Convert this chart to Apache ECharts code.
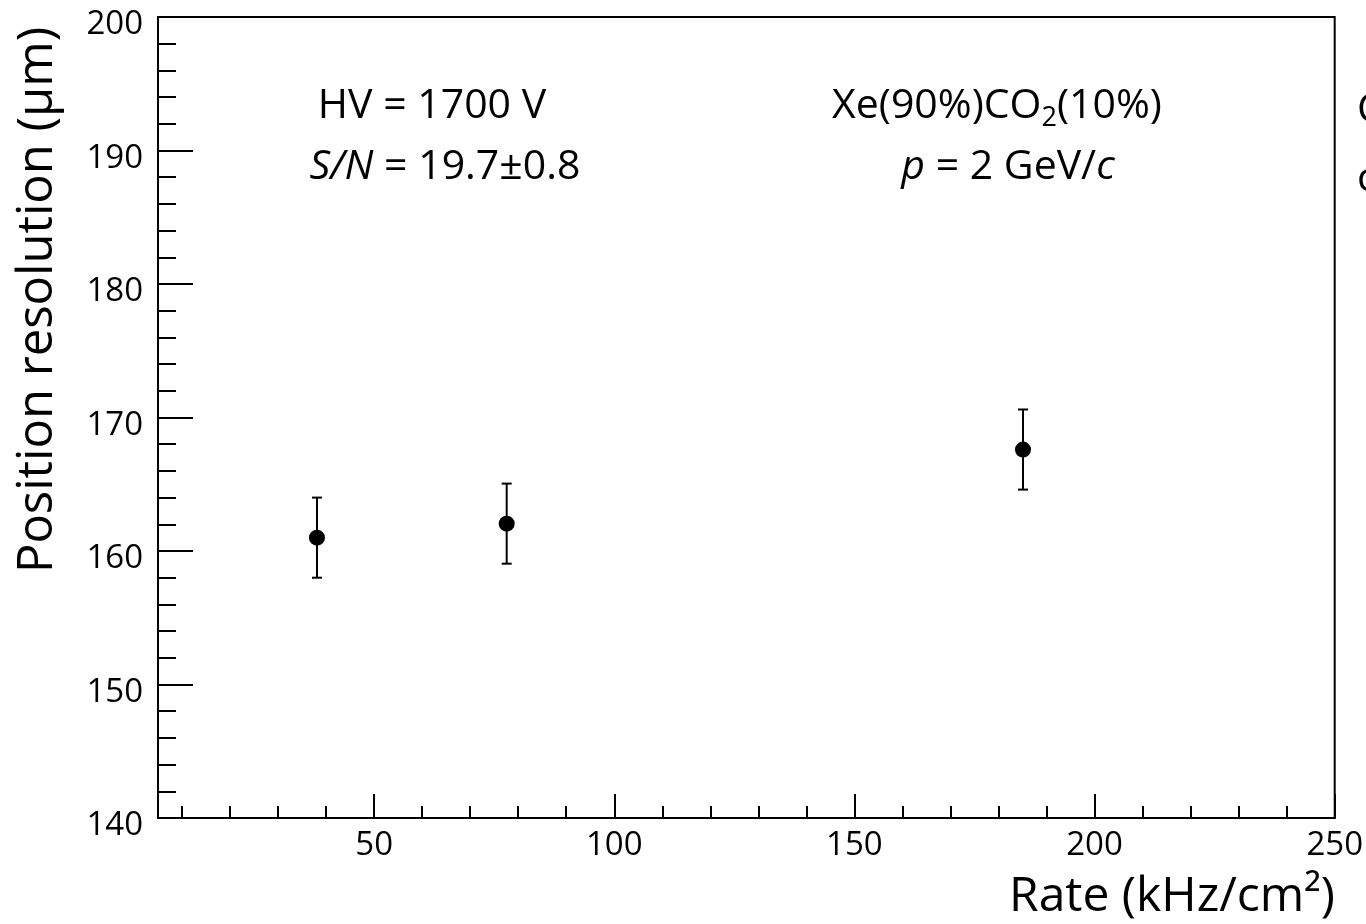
<!DOCTYPE html>
<html>
<head>
<meta charset="utf-8">
<script src="https://cdn.jsdelivr.net/npm/echarts@6/dist/echarts.min.js"></script>
<style>
html,body{margin:0;padding:0;background:#fff;}
#chart{width:1366px;height:924px;}
</style>
</head>
<body>
<div id="chart"></div>
<script>
// ---- data ----
var rateValues = [38.1, 77.6, 185.1];          // kHz/cm^2
var resValues = [161.0, 162.05, 167.6];        // um
var resErrors = [3.0, 3.0, 3.0];               // um

var xMajorTicks = [50, 100, 150, 200, 250];
var xMinorTicks = [10, 20, 30, 40, 60, 70, 80, 90, 110, 120, 130, 140, 160, 170, 180, 190, 210, 220, 230, 240];

var xTitle = 'Rate (kHz/cm\u00B2)';
var yTitle = 'Position resolution (\u03BCm)';

var FONT = '"Open Sans", "DejaVu Sans", sans-serif';

var points = rateValues.map(function (x, i) { return [x, resValues[i]]; });
var bars = rateValues.map(function (x, i) { return [x, resValues[i] - resErrors[i], resValues[i] + resErrors[i]]; });

var chart = echarts.init(document.getElementById('chart'), null, {renderer: 'canvas'});

var blackLine = {color: '#000', width: 2};

var option = {
  animation: false,
  backgroundColor: '#fff',
  grid: {
    left: 158, top: 17, right: 30, bottom: 106,
    show: true, borderColor: '#000', borderWidth: 2, backgroundColor: 'transparent'
  },
  xAxis: [{
    type: 'value', min: 5, max: 250,
    axisLine: {show: true, lineStyle: blackLine},
    axisTick: {show: true, inside: true, length: 24, lineStyle: blackLine, customValues: xMajorTicks},
    axisLabel: {show: true, customValues: xMajorTicks, color: '#000', fontSize: 33, fontFamily: FONT, margin: 11},
    splitLine: {show: false}
  }, {
    type: 'value', min: 5, max: 250, position: 'bottom', gridIndex: 0,
    axisLine: {show: false},
    axisTick: {show: true, inside: true, length: 12, lineStyle: blackLine, customValues: xMinorTicks},
    axisLabel: {show: false},
    splitLine: {show: false}
  }],
  yAxis: {
    type: 'value', min: 140, max: 200, interval: 10,
    axisLine: {show: true, lineStyle: blackLine},
    axisTick: {show: true, inside: true, length: 35, lineStyle: blackLine},
    minorTick: {show: true, splitNumber: 5, length: 18, lineStyle: blackLine},
    axisLabel: {color: '#000', fontSize: 33, fontFamily: FONT, margin: 15, verticalAlign: 'top', lineHeight: 16},
    splitLine: {show: false}
  },
  series: [{
    type: 'custom',
    data: bars,
    renderItem: function (params, api) {
      var x = api.value(0);
      var lo = api.coord([x, api.value(1)]);
      var hi = api.coord([x, api.value(2)]);
      var w = 5;
      var st = {stroke: '#000', lineWidth: 2};
      return {
        type: 'group',
        children: [
          {type: 'line', shape: {x1: hi[0], y1: hi[1], x2: lo[0], y2: lo[1]}, style: st},
          {type: 'line', shape: {x1: hi[0] - w, y1: hi[1], x2: hi[0] + w, y2: hi[1]}, style: st},
          {type: 'line', shape: {x1: lo[0] - w, y1: lo[1], x2: lo[0] + w, y2: lo[1]}, style: st}
        ]
      };
    },
    z: 2
  }, {
    type: 'scatter',
    data: points,
    symbol: 'circle',
    symbolSize: 16,
    itemStyle: {color: '#000', opacity: 1},
    z: 3
  }],
  graphic: [
    {type: 'text', x: 38, y: 300, rotation: Math.PI / 2,
      style: {text: yTitle, fontSize: 49, fontFamily: FONT, fill: '#000', textAlign: 'center', textVerticalAlign: 'middle'}},
    {type: 'text', x: 1335, y: 897,
      style: {text: xTitle, fontSize: 48, fontFamily: FONT, fill: '#000', textAlign: 'right', textVerticalAlign: 'middle'}},
    {type: 'text', x: 432, y: 106,
      style: {text: 'HV = 1700 V', fontSize: 41, fontFamily: FONT, fill: '#000', textAlign: 'center', textVerticalAlign: 'middle'}},
    {type: 'text', x: 445, y: 167,
      style: {text: '{i|S/N} = 19.7\u00B10.8', fontSize: 41, fontFamily: FONT, fill: '#000', textAlign: 'center', textVerticalAlign: 'middle',
        rich: {i: {fontStyle: 'italic', fontSize: 41, fontFamily: FONT, fill: '#000'}}}},
    {type: 'text', x: 997, y: 106,
      style: {text: '{n|Xe(90%)CO}{s|2}{n|(10%)}', fontSize: 41, fontFamily: FONT, fill: '#000', textAlign: 'center', textVerticalAlign: 'middle',
        rich: {
          n: {fontSize: 41, fontFamily: FONT, lineHeight: 52, fill: '#000'},
          s: {fontSize: 27, fontFamily: FONT, lineHeight: 27, verticalAlign: 'bottom', fill: '#000'}
        }}},
    {type: 'text', x: 1008, y: 167,
      style: {text: '{i|p} = 2 GeV/{i|c}', fontSize: 41, fontFamily: FONT, fill: '#000', textAlign: 'center', textVerticalAlign: 'middle',
        rich: {i: {fontStyle: 'italic', fontSize: 41, fontFamily: FONT, fill: '#000'}}}},
    {type: 'text', x: 1357, y: 110,
      style: {text: 'C', fontSize: 41, fontFamily: FONT, fill: '#000', textAlign: 'left', textVerticalAlign: 'middle'}},
    {type: 'text', x: 1357, y: 179,
      style: {text: 'c', fontSize: 41, fontFamily: FONT, fill: '#000', textAlign: 'left', textVerticalAlign: 'middle'}}
  ]
};
chart.setOption(option);
</script>
</body>
</html>
